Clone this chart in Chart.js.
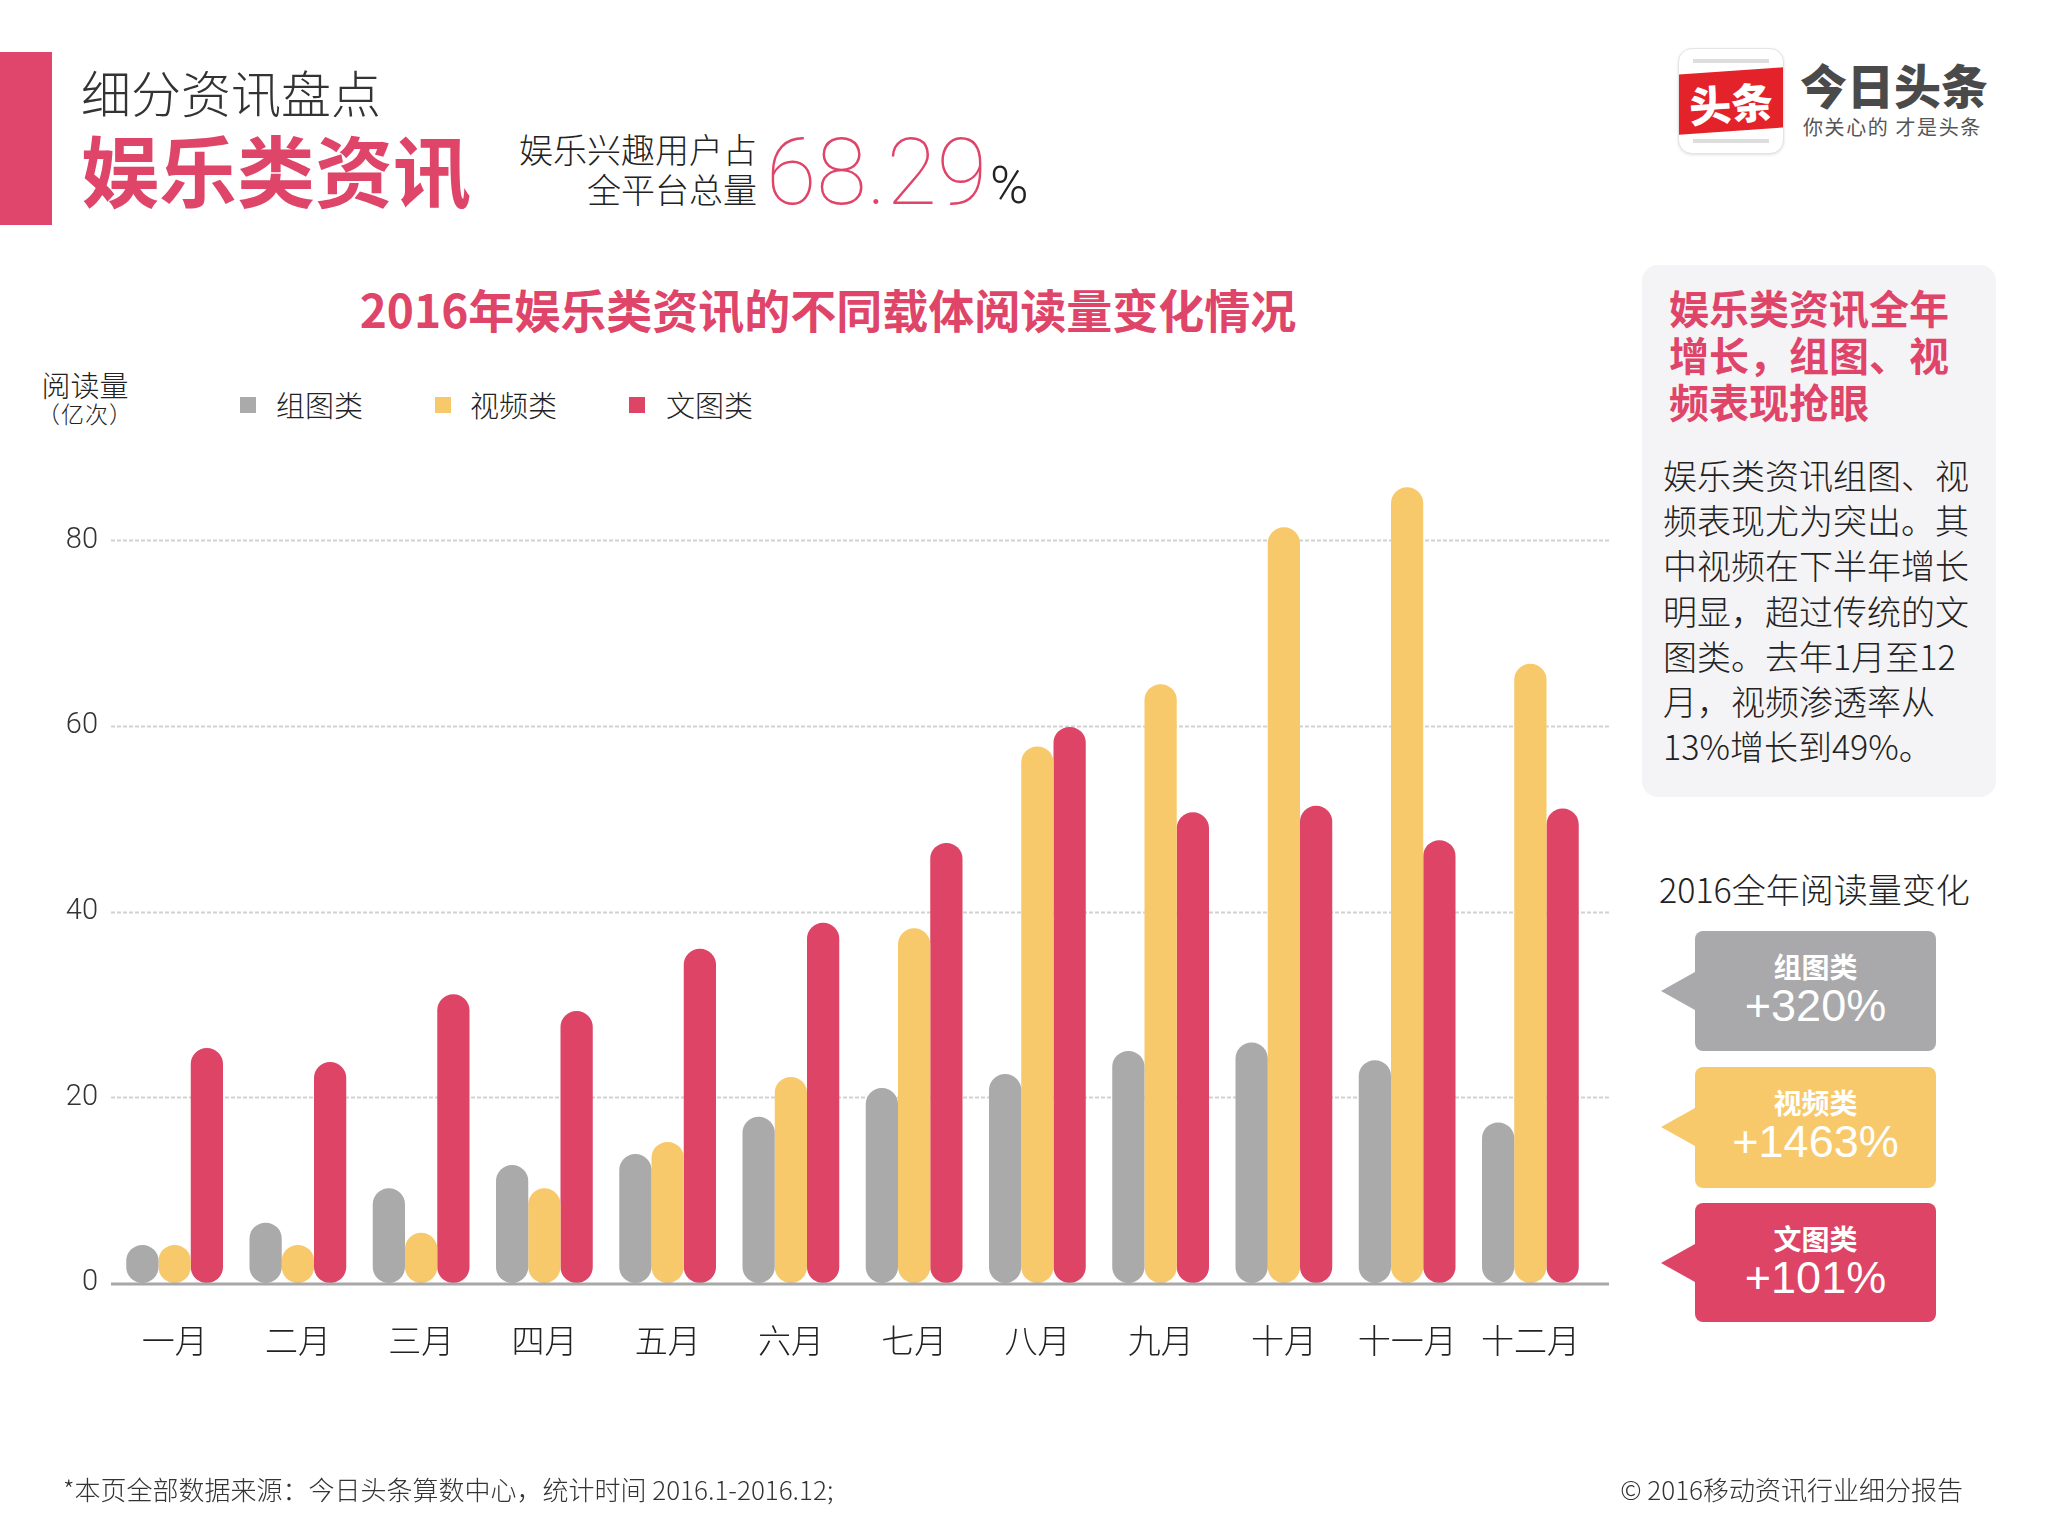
<!DOCTYPE html>
<html><head><meta charset="utf-8">
<script src="https://cdn.jsdelivr.net/npm/chart.js@4/dist/chart.umd.min.js"></script>
<style>
html,body{margin:0;padding:0;background:#fff;}
#page{position:relative;width:2048px;height:1536px;overflow:hidden;font-family:"Noto Sans CJK SC","Noto Sans",sans-serif;color:#222;}
.a{position:absolute;white-space:nowrap;line-height:1;}
.pink{color:#df4469;}
.lg{position:absolute;width:16px;height:16px;top:397px;}
.callout{position:absolute;left:1695px;width:241px;border-radius:8px;color:#fff;text-align:center;}
.callout .tri{position:absolute;left:-34px;top:41px;width:0;height:0;border-top:19px solid transparent;border-bottom:19px solid transparent;}
.callout .t1{position:absolute;left:0;right:0;top:21px;font-size:28px;font-weight:700;line-height:1;}
.callout .t2{position:absolute;left:0;right:0;top:52px;font-size:45px;font-family:"Liberation Sans",Arial,sans-serif;line-height:1;}
</style></head><body>
<div id="page">
  <div class="a" style="left:0;top:52px;width:52px;height:173px;background:#e0466c;"></div>
  <div class="a" style="left:81px;top:66px;font-size:50px;font-weight:300;color:#333;">细分资讯盘点</div>
  <div class="a pink" style="left:81px;top:129px;font-size:78px;font-weight:700;">娱乐类资讯</div>
  <div class="a" style="right:1291px;top:132px;font-size:34px;font-weight:300;">娱乐兴趣用户占</div>
  <div class="a" style="right:1291px;top:172px;font-size:34px;font-weight:300;">全平台总量</div>
  <div class="a pink" style="left:766px;top:127px;font-size:92px;font-weight:100;font-family:Roboto,Lato,sans-serif;">68.29</div>
  <div class="a" style="left:990px;top:160px;font-size:52px;font-weight:300;font-family:Roboto,Lato,sans-serif;color:#222;">%</div>

  <!-- logo -->
  <div class="a" style="left:1678px;top:48px;width:104px;height:104px;border-radius:14px;background:#fff;border:1px solid #e4e4e4;box-shadow:0 1px 3px rgba(0,0,0,0.12);overflow:hidden;">
    <div class="a" style="left:14px;top:10px;width:76px;height:4px;background:#ddd;"></div>
    <div class="a" style="left:-4px;top:22px;width:112px;height:60px;background:#e4222a;transform:rotate(-4deg);"></div>
    <div class="a" style="left:0;width:104px;top:32px;text-align:center;font-size:42px;font-weight:900;color:#fff;transform:rotate(-4deg);">头条</div>
    <div class="a" style="left:14px;top:90px;width:76px;height:4px;background:#ddd;"></div>
  </div>
  <div class="a" style="left:1800px;top:60px;font-size:47px;font-weight:900;color:#4a4a4a;letter-spacing:0px;">今日头条</div>
  <div class="a" style="left:1803px;top:117px;font-size:20px;font-weight:400;color:#555;letter-spacing:1.6px;">你关心的 才是头条</div>

  <div class="a pink" style="left:0;width:1656px;text-align:center;top:285px;font-size:46px;font-weight:700;">2016年娱乐类资讯的不同载体阅读量变化情况</div>

  <div class="a" style="left:35px;width:100px;text-align:center;top:370px;font-size:29px;font-weight:300;">阅读量</div>
  <div class="a" style="left:30px;width:110px;text-align:center;top:402px;font-size:23px;font-weight:300;letter-spacing:1px;">（亿次）</div>

  <div class="lg" style="left:240px;background:#aaaaaa;"></div>
  <div class="a" style="left:276px;top:390px;font-size:29px;font-weight:300;">组图类</div>
  <div class="lg" style="left:435px;background:#f8c96b;"></div>
  <div class="a" style="left:470px;top:390px;font-size:29px;font-weight:300;">视频类</div>
  <div class="lg" style="left:629px;background:#dd4466;"></div>
  <div class="a" style="left:666px;top:390px;font-size:29px;font-weight:300;">文图类</div>

  <div id="chartBox" style="position:absolute;left:0;top:0;width:1640px;height:1536px;"><canvas id="c"></canvas></div>

  <!-- right panel -->
  <div class="a" style="left:1642px;top:265px;width:354px;height:532px;background:#f4f3f5;border-radius:16px;"></div>
  <div class="a pink" style="left:1669px;top:284px;font-size:40px;font-weight:700;line-height:47px;">娱乐类资讯全年<br>增长，组图、视<br>频表现抢眼</div>
  <div class="a" style="left:1663px;top:452px;font-size:34px;font-weight:300;line-height:45.2px;color:#222;">娱乐类资讯组图、视<br>频表现尤为突出。其<br>中视频在下半年增长<br>明显，超过传统的文<br>图类。去年1月至12<br>月，视频渗透率从<br>13%增长到49%。</div>
  <div class="a" style="left:1659px;top:872px;font-size:34px;font-weight:300;">2016全年阅读量变化</div>

  <div class="callout" style="top:931px;height:120px;background:#a9a9ab;"><div class="tri" style="border-right:34px solid #a9a9ab;"></div><div class="t1">组图类</div><div class="t2">+320%</div></div>
  <div class="callout" style="top:1067px;height:121px;background:#f8c96b;"><div class="tri" style="border-right:34px solid #f8c96b;"></div><div class="t1">视频类</div><div class="t2">+1463%</div></div>
  <div class="callout" style="top:1203px;height:119px;background:#dd4466;"><div class="tri" style="border-right:34px solid #dd4466;"></div><div class="t1">文图类</div><div class="t2">+101%</div></div>

  <div class="a" style="left:63px;top:1476px;font-size:26px;font-weight:300;color:#333;">*本页全部数据来源：今日头条算数中心，统计时间 2016.1-2016.12;</div>
  <div class="a" style="right:85px;top:1476px;font-size:26px;font-weight:300;color:#333;">© 2016移动资讯行业细分报告</div>
</div>
<script>
const months = ['一月','二月','三月','四月','五月','六月','七月','八月','九月','十月','十一月','十二月'];
const seriesNames = ['组图类','视频类','文图类'];
const zutu   = [4.1, 6.5, 10.2, 12.7, 13.9, 17.9, 21.0, 22.5, 25.0, 25.9, 24.0, 17.3];
const shipin = [4.1, 4.1, 5.4, 10.2, 15.2, 22.2, 38.2, 57.8, 64.5, 81.4, 85.7, 66.7];
const wentu  = [25.3, 23.8, 31.1, 29.3, 36.0, 38.8, 47.4, 59.9, 50.7, 51.4, 47.7, 51.1];
const yTicks = [0, 20, 40, 60, 80];

const colors = ['#aaaaaa', '#f8c96b', '#dd4466'];

const gridPlugin = {
  id: 'customGrid',
  beforeDatasetsDraw(chart) {
    const {ctx, chartArea, scales: {y}} = chart;
    ctx.save();
    ctx.strokeStyle = '#d2d2d2';
    ctx.lineWidth = 2;
    ctx.setLineDash([4, 2]);
    y.ticks.forEach(t => {
      if (t.value === 0) return;
      const py = Math.round(y.getPixelForValue(t.value)) + 0.5;
      ctx.beginPath();
      ctx.moveTo(chartArea.left - 2, py);
      ctx.lineTo(chartArea.right + 17, py);
      ctx.stroke();
    });
    ctx.restore();
  },
  afterDatasetsDraw(chart) {
    const {ctx, chartArea, scales: {y}} = chart;
    ctx.save();
    ctx.strokeStyle = '#a8a8a8';
    ctx.lineWidth = 3;
    const py = y.getPixelForValue(0) + 1;
    ctx.beginPath();
    ctx.moveTo(chartArea.left - 2, py);
    ctx.lineTo(chartArea.right + 17, py);
    ctx.stroke();
    ctx.restore();
  }
};

new Chart(document.getElementById('c'), {
  type: 'bar',
  data: {
    labels: months,
    datasets: [zutu, shipin, wentu].map((d, i) => ({
      label: seriesNames[i],
      data: d,
      backgroundColor: colors[i],
      borderRadius: 16,
      borderSkipped: false,
      barPercentage: 1.0,
      categoryPercentage: 0.785
    }))
  },
  options: {
    responsive: true,
    maintainAspectRatio: false,
    animation: false,
    layout: { padding: { left: 0, top: 466, right: 48, bottom: 163 } },
    plugins: { legend: { display: false }, tooltip: { enabled: false }, title: { display: false } },
    scales: {
      x: {
        grid: { display: false, drawTicks: false },
        border: { display: false },
        ticks: { color: '#222', padding: 38, font: { family: '"Noto Sans CJK SC", sans-serif', size: 33, weight: '300' } },
        afterFit(scale) { scale.height = 90; }
      },
      y: {
        min: 0, max: 88,
        grid: { display: false, drawTicks: false },
        border: { display: false },
        ticks: { stepSize: 20, color: '#333', padding: 15, font: { family: 'Roboto, sans-serif', size: 29, weight: '300' } },
        afterBuildTicks(axis) { axis.ticks = yTicks.map(v => ({ value: v })); },
        afterFit(scale) { scale.width = 113; }
      }
    }
  },
  plugins: [gridPlugin]
});
</script>
</body></html>
